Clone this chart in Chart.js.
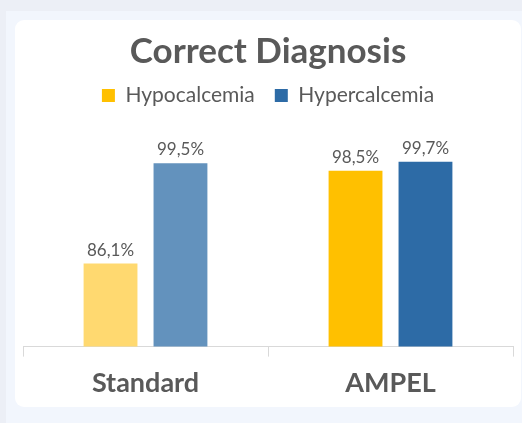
<!DOCTYPE html>
<html>
<head>
<meta charset="utf-8">
<script src="https://cdn.jsdelivr.net/npm/chart.js@4.4.1/dist/chart.umd.min.js"></script>
<style>
  html, body { margin: 0; padding: 0; }
  body { width: 522px; height: 423px; background: #eceff6; position: relative; overflow: hidden; }
  #panel { position: absolute; left: 6px; top: 11px; width: 520px; height: 420px; background: #f2f6fd; }
  #card { position: absolute; left: 15px; top: 20px; width: 506px; height: 387px; background: #ffffff; border-radius: 9px; }
  canvas { display: block; }
</style>
</head>
<body>
<div id="panel"></div>
<div id="card"><canvas id="grafico" width="506" height="387"></canvas></div>
<script>
// datos
const categorias = ["Standard", "AMPEL"];
const hipocalcemia = [86.1, 98.5];
const hipercalcemia = [99.5, 99.7];
const nombres = ["Hypocalcemia", "Hypercalcemia"];
const yMin = 75;
const yMax = 100;

const gris = "#595959";
const fuente = "Lato, 'Open Sans', sans-serif";

// etiquetas encima de cada barra (86,1%)
const etiquetasBarras = {
  id: "etiquetasBarras",
  afterDatasetsDraw(chart) {
    const ctx = chart.ctx;
    ctx.save();
    ctx.fillStyle = gris;
    ctx.font = "17px " + fuente;
    ctx.textAlign = "center";
    ctx.textBaseline = "bottom";
    chart.data.datasets.forEach((ds, i) => {
      chart.getDatasetMeta(i).data.forEach((bar, j) => {
        const txt = ds.data[j].toFixed(1).replace(".", ",") + "%";
        ctx.fillText(txt, bar.x, bar.y - 5);
      });
    });
    ctx.restore();
  }
};

// mas espacio debajo de la leyenda
const espacioLeyenda = {
  id: "espacioLeyenda",
  beforeInit(chart) {
    const fitOriginal = chart.legend.fit;
    chart.legend.fit = function () {
      fitOriginal.bind(chart.legend)();
      this.height += 43.5;
    };
  }
};

const ctx = document.getElementById("grafico").getContext("2d");
new Chart(ctx, {
  type: "bar",
  data: {
    labels: categorias,
    datasets: [
      {
        label: nombres[0],
        data: hipocalcemia,
        backgroundColor: ["#ffd970", "#ffc000"]
      },
      {
        label: nombres[1],
        data: hipercalcemia,
        backgroundColor: ["#6392bd", "#2d6ba6"]
      }
    ]
  },
  options: {
    responsive: false,
    animation: false,
    categoryPercentage: 0.571,
    barPercentage: 0.77,
    layout: { padding: { left: 8, right: 8, top: 6, bottom: -2 } },
    plugins: {
      tooltip: { enabled: false },
      title: {
        display: true,
        text: "Correct Diagnosis",
        color: gris,
        font: { family: fuente, size: 35, weight: "bold" },
        padding: { top: 5, bottom: -8 }
      },
      legend: {
        display: true,
        labels: {
          color: gris,
          boxWidth: 13,
          boxHeight: 13,
          padding: 20,
          font: { family: fuente, size: 21 },
          generateLabels(chart) {
            return nombres.map((n, i) => ({
              text: n,
              fillStyle: i === 0 ? "#ffc000" : "#2d6ba6",
              strokeStyle: "transparent",
              lineWidth: 0,
              fontColor: gris,
              datasetIndex: i
            }));
          }
        }
      }
    },
    scales: {
      x: {
        grid: {
          display: true,
          drawOnChartArea: false,
          drawTicks: true,
          tickLength: 10,
          color: "#d9d9d9"
        },
        border: { display: true, color: "#d9d9d9" },
        ticks: {
          color: gris,
          padding: 10,
          font: { family: fuente, size: 27, weight: "bold" }
        }
      },
      y: {
        display: false,
        min: yMin,
        max: yMax
      }
    }
  },
  plugins: [etiquetasBarras, espacioLeyenda]
});
</script>
</body>
</html>
